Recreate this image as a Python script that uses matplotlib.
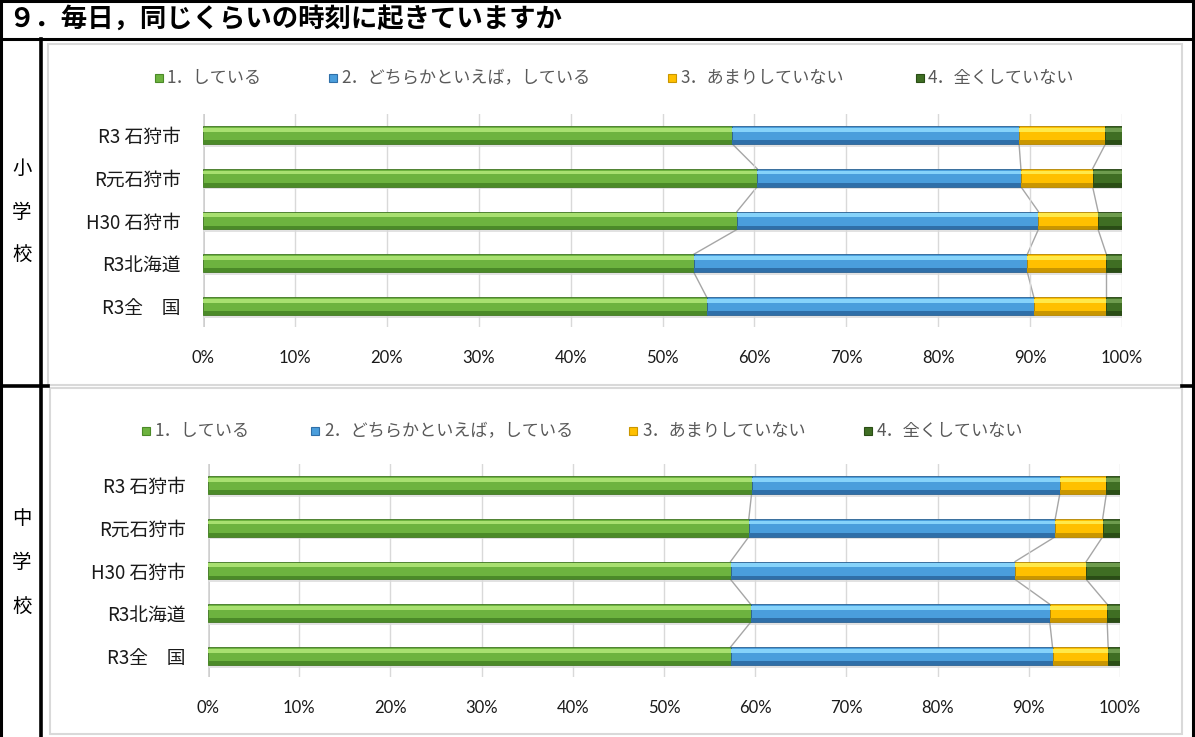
import numpy as np
import matplotlib
matplotlib.use("Agg")
import matplotlib.pyplot as plt
from matplotlib.patches import Rectangle

plt.rcParams['font.family'] = ['Noto Sans CJK JP', 'DejaVu Sans']

W, H = 1195, 737

title = '９．毎日，同じくらいの時刻に起きていますか'
categories = ['R3 石狩市', 'R元石狩市', 'H30 石狩市', 'R3北海道', 'R3全\u3000国']
series = ['1．している', '2．どちらかといえば，している', '3．あまりしていない', '4．全くしていない']
ticks = [0, 10, 20, 30, 40, 50, 60, 70, 80, 90, 100]

# 小学校
elem_1 = [57.6, 60.3, 58.1, 53.4, 54.8]
elem_2 = [31.2, 28.7, 32.8, 36.3, 35.6]
elem_3 = [9.4, 7.8, 6.5, 8.6, 7.9]
elem_4 = [1.8, 3.2, 2.6, 1.7, 1.7]

# 中学校
jhs_1 = [59.6, 59.3, 57.3, 59.5, 57.3]
jhs_2 = [33.8, 33.6, 31.2, 32.8, 35.3]
jhs_3 = [5.1, 5.2, 7.8, 6.3, 6.1]
jhs_4 = [1.5, 1.9, 3.7, 1.4, 1.3]

# (mid, light top, dark bottom, edge)
colors = [
    ('#6DB33F', '#A8E070', '#4B8A28', '#3F7422'),
    ('#4A9EDC', '#86D3FA', '#2F6FA8', '#2A5F90'),
    ('#FFC000', '#FFE94A', '#C99600', '#B08200'),
    ('#3F6E23', '#6E9C4E', '#2A4D15', '#223F10'),
]


def px_rect(x0, y0, x1, y1):
    return [x0 / W, 1 - y1 / H, (x1 - x0) / W, (y1 - y0) / H]


def draw_chart(ax, vals):
    h = 0.42
    y = np.arange(len(categories))
    data = np.array(vals)
    lefts = np.vstack([np.zeros(len(categories)), np.cumsum(data, axis=0)[:-1]])
    ax.set_xlim(0, 100)
    ax.set_ylim(len(categories) - 0.5, -0.5)
    ax.set_facecolor('none')
    ax.set_xticks(ticks)
    ax.set_xticklabels([f'{t}%' for t in ticks], family=['Lato'], fontsize=12, color='#1a1a1a')
    ax.set_yticks(y)
    ax.set_yticklabels(categories, fontsize=13.5, color='#1a1a1a')
    ax.tick_params(length=0)
    ax.tick_params(axis='x', pad=16)
    ax.tick_params(axis='y', pad=16)
    for s in ax.spines.values():
        s.set_visible(False)
    ax.grid(axis='x', color='#D9D9D9', lw=1, zorder=0)
    ax.axvline(0, color='#C8C8C8', lw=2, zorder=1)

    # soft shadow under each bar
    ax.barh(y + h / 2 + 0.03, 100, left=0, height=0.06, color='#E2E2E2', zorder=1)
    for k in range(4):
        mid, light, dark, edge = colors[k]
        ax.barh(y, data[k], left=lefts[k], height=h, color=mid,
                edgecolor=edge, lw=0.6, zorder=2)
        ax.barh(y - h * 0.29, data[k], left=lefts[k], height=h * 0.2,
                color=light, lw=0, zorder=3)
        ax.barh(y + h * 0.39, data[k], left=lefts[k], height=h * 0.2,
                color=dark, lw=0, zorder=3)

    # series lines between neighbouring bars
    cum = np.cumsum(data, axis=0)
    for k in range(3):
        for i in range(len(categories) - 1):
            ax.plot([cum[k][i], cum[k][i + 1]], [i + h / 2, i + 1 - h / 2],
                    color='#A6A6A6', lw=1, zorder=1.5)


def draw_legend(bg, ycen, marks, texts):
    for k in range(4):
        mid, light, dark, edge = colors[k]
        bg.add_patch(Rectangle((marks[k] - 4, ycen - 4), 8, 8, facecolor=mid,
                               edgecolor=dark, lw=0.8, zorder=3))
        bg.text(texts[k], ycen, series[k], fontsize=12.3, color='#595959',
                va='center', ha='left', zorder=3)


fig = plt.figure(figsize=(W / 100, H / 100), dpi=100)
bg = fig.add_axes([0, 0, 1, 1], zorder=0)
bg.set_xlim(0, W)
bg.set_ylim(H, 0)
bg.axis('off')

# chart boxes
bg.add_patch(Rectangle((48, 44), 1134, 341, facecolor='white', edgecolor='#D9D9D9', lw=1.5, zorder=1))
bg.add_patch(Rectangle((50, 388), 1132, 346, facecolor='white', edgecolor='#D9D9D9', lw=1.5, zorder=1))

# table frame
k = 'black'
bg.plot([1.5, 1.5], [0, H], color=k, lw=2.2, zorder=4)
bg.plot([1193.5, 1193.5], [0, H], color=k, lw=2.2, zorder=4)
bg.plot([0, W], [1, 1], color=k, lw=2.2, zorder=4)
bg.plot([0, W], [38.5, 38.5], color=k, lw=2.2, zorder=4)
bg.plot([41.5, 41.5], [38.5, H], color=k, lw=2.6, zorder=4)
bg.plot([0, 48], [385.5, 385.5], color=k, lw=2.6, zorder=4)
bg.plot([1182, W], [385.5, 385.5], color=k, lw=2.6, zorder=4)

bg.text(8, 19, title, fontsize=19, fontweight='bold', va='center', ha='left', zorder=4)
for ch, yy in zip('小学校', [168, 212, 254]):
    bg.text(22, yy, ch, fontsize=14, va='center', ha='center', zorder=4)
for ch, yy in zip('中学校', [519, 562, 606]):
    bg.text(22, yy, ch, fontsize=14, va='center', ha='center', zorder=4)

draw_legend(bg, 78, [159, 333, 672, 920], [167, 341, 680, 928])
draw_legend(bg, 431, [146, 315, 633, 868], [155, 324, 642, 877])

ax1 = fig.add_axes(px_rect(203, 113.6, 1122, 327.4), zorder=2)
draw_chart(ax1, [elem_1, elem_2, elem_3, elem_4])

ax2 = fig.add_axes(px_rect(208, 463.6, 1120, 677.4), zorder=2)
draw_chart(ax2, [jhs_1, jhs_2, jhs_3, jhs_4])

fig.savefig('out.png', dpi=100)
